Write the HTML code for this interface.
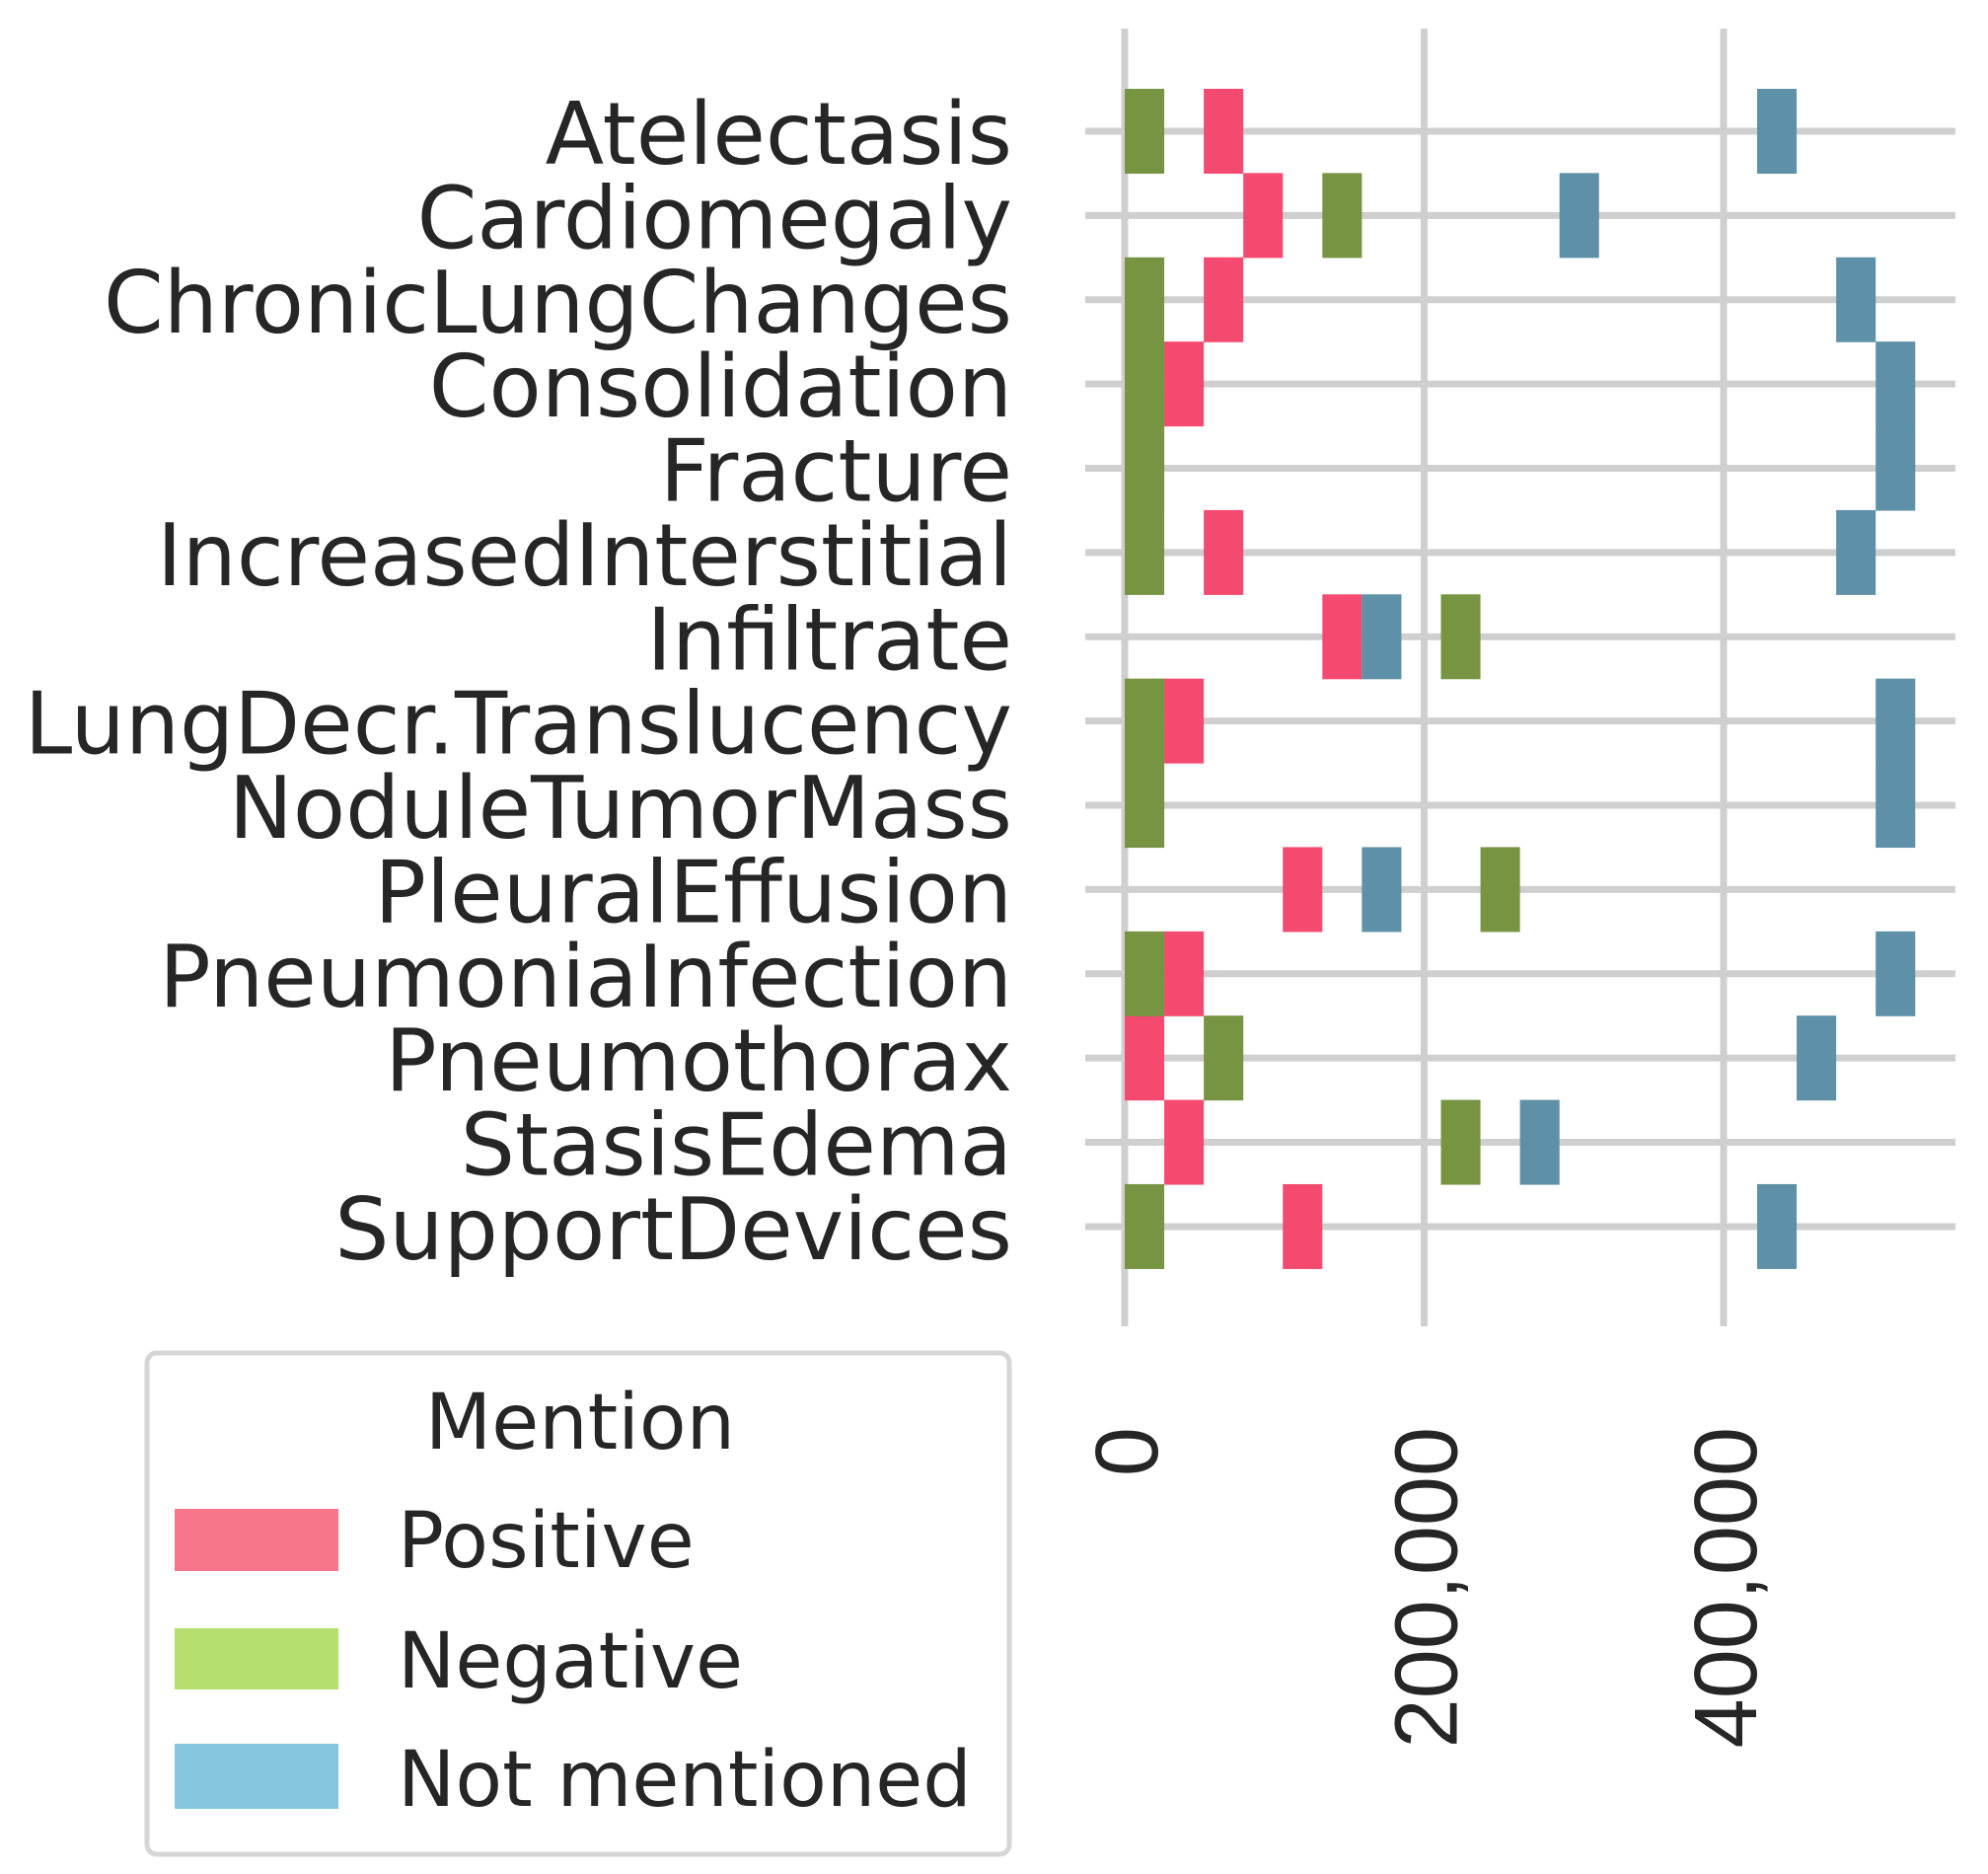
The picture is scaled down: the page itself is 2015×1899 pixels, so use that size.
<!DOCTYPE html>
<html><head><meta charset="utf-8"><style>
html,body{margin:0;padding:0;background:#fff;}
svg{display:block;}
text{font-family:"DejaVu Sans","Liberation Sans",sans-serif;fill:#262626;}
</style></head><body>
<svg id="chart" width="2015" height="1899" viewBox="0 0 2015 1899" xmlns="http://www.w3.org/2000/svg">
<g id="grid"></g>
<g id="bars"></g>
<g id="ylabels"></g>
<g id="xlabels"></g>
<g>
  <rect x="149" y="1371" width="874" height="508" rx="10" fill="#fff" stroke="#d6d6d6" stroke-width="5"/>
  <text x="588" y="1468" font-size="78" text-anchor="middle">Mention</text>
  <rect x="177" y="1529" width="166" height="63" fill="#f7768a"/>
  <text x="403" y="1588" font-size="78">Positive</text>
  <rect x="177" y="1650" width="166" height="62" fill="#b5df6e"/>
  <text x="403" y="1710" font-size="78">Negative</text>
  <rect x="177" y="1767" width="166" height="66" fill="#86c6e0"/>
  <text x="403" y="1830" font-size="78">Not mentioned</text>
</g>
</svg>
<script>
const categories = ["Atelectasis","Cardiomegaly","ChronicLungChanges","Consolidation","Fracture","IncreasedInterstitial","Infiltrate","LungDecr.Translucency","NoduleTumorMass","PleuralEffusion","PneumoniaInfection","Pneumothorax","StasisEdema","SupportDevices"];
const positive = [66000, 92400, 66000, 39600, 13200, 66000, 145200, 39600, 13200, 118800, 39600, 13200, 39600, 118800];
const negative = [13200, 145200, 13200, 13200, 13200, 13200, 224400, 13200, 13200, 250800, 13200, 66000, 224400, 13200];
const notMentioned = [435600, 303600, 488400, 514800, 514800, 488400, 171600, 514800, 514800, 171600, 514800, 462000, 277200, 435600];
const xTicks = [0, 200000, 400000];
const xTickLabels = ["0", "200,000", "400,000"];
const binWidth = 26400;

const NS = "http://www.w3.org/2000/svg";
const X0 = 1140, PX_PER = 607 / 400000;
function xScale(v){ return X0 + v * PX_PER; }
function yScale(i){ return 133 + i * 85.38; }
function mk(tag, attrs, parent){ const e = document.createElementNS(NS, tag); for (const k in attrs) e.setAttribute(k, attrs[k]); parent.appendChild(e); return e; }

const grid = document.getElementById("grid");
xTicks.forEach((t) => {
  const l = mk("line", {x1: xScale(t), x2: xScale(t), y1: 29, y2: 1344, stroke: "#cfcfcf", "stroke-width": 7}, grid);
  
  
});
categories.forEach((c, i) => {
  const l = mk("line", {x1: 1100, x2: 1982, y1: yScale(i), y2: yScale(i), stroke: "#cfcfcf", "stroke-width": 7}, grid);
  
  
});

const bars = document.getElementById("bars");
const series = [["positive", positive, "#f44a70"], ["negative", negative, "#779443"], ["not-mentioned", notMentioned, "#5e91a7"]];
series.forEach(([name, vals, col]) => {
  vals.forEach((v, i) => {
    const k = Math.floor(v / binWidth);
    const x1 = xScale(k * binWidth), x2 = xScale((k + 1) * binWidth);
    const r = mk("rect", {x: x1, y: yScale(i) - 43, width: x2 - x1, height: 86, fill: col}, bars);
    
    
  });
});

const yl = document.getElementById("ylabels");
categories.forEach((c, i) => {
  const t = mk("text", {x: 1026, y: yScale(i) + 33, "font-size": 87, "text-anchor": "end"}, yl);
  t.textContent = c;
  
  
});

const xl = document.getElementById("xlabels");
xTicks.forEach((tv, i) => {
  const x = xScale(tv) + 33, y = 1446;
  const t = mk("text", {x: x, y: y, "font-size": 90, "text-anchor": "end", transform: "rotate(-90 " + x + " " + y + ")", style: "font-family:'Liberation Sans',sans-serif"}, xl);
  t.textContent = xTickLabels[i];
  
  
});
</script>
</body></html>
